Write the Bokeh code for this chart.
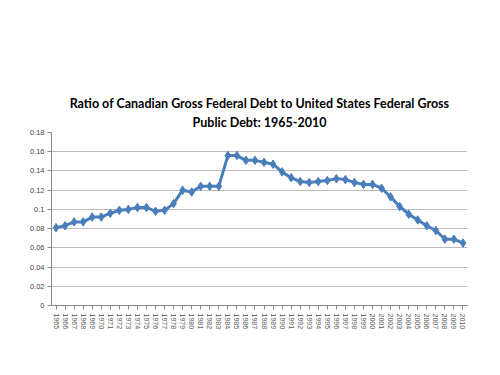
from bokeh.plotting import figure
from bokeh.models import FactorRange, Range1d, FixedTicker, CustomJSTickFormatter, Title, ColumnDataSource
from bokeh.embed import file_html
from bokeh.resources import INLINE

years = [str(y) for y in range(1965, 2011)]
ratio = [0.081, 0.083, 0.087, 0.087, 0.092, 0.092, 0.096, 0.099, 0.100, 0.102,
         0.102, 0.098, 0.099, 0.106, 0.120, 0.118, 0.124, 0.124, 0.124, 0.156,
         0.156, 0.151, 0.151, 0.149, 0.147, 0.139, 0.133, 0.129, 0.128, 0.129,
         0.130, 0.132, 0.131, 0.128, 0.126, 0.126, 0.122, 0.113, 0.103, 0.095,
         0.089, 0.083, 0.078, 0.069, 0.069, 0.065]
y_ticks = [0, 0.02, 0.04, 0.06, 0.08, 0.10, 0.12, 0.14, 0.16, 0.18]
title_line1 = "Ratio of Canadian Gross Federal Debt to United States Federal Gross"
title_line2 = "Public Debt: 1965-2010"

src = ColumnDataSource(data=dict(year=years, ratio=ratio))

p = figure(width=484, height=359, x_range=FactorRange(*years), y_range=Range1d(0, 0.18),
           output_backend="svg", toolbar_location=None, title=None,
           min_border_left=51, min_border_right=17, min_border_top=132, min_border_bottom=54)
p.outline_line_color = None

for txt, so in [(title_line2, 5), (title_line1, 0)]:
    t = Title(text=txt, align="center", text_font="Lato", text_font_size="12.5px",
              text_font_style="bold", text_color="#000000", offset=0, standoff=so)
    p.add_layout(t, "above")

p.line(x="year", y="ratio", source=src, line_color="#4a7ebb", line_width=3)
p.scatter(x="year", y="ratio", source=src, marker="diamond", size=8.5,
          fill_color="#4a7ebb", line_color="#4a7ebb")

p.yaxis.ticker = FixedTicker(ticks=y_ticks)
p.yaxis.formatter = CustomJSTickFormatter(code="return String(Number(tick.toFixed(2)));")
p.yaxis.minor_tick_line_color = None
p.yaxis.major_tick_in = 0
p.yaxis.major_tick_out = 4
p.yaxis.axis_line_color = "#888888"
p.yaxis.major_tick_line_color = "#888888"
p.yaxis.major_label_text_font = "Liberation Sans"
p.yaxis.major_label_text_font_size = "7.5px"
p.yaxis.major_label_text_color = "#444444"
p.yaxis.major_label_standoff = 3

p.xaxis.major_label_orientation = "vertical"
p.xaxis.major_label_text_font = "Liberation Sans"
p.xaxis.major_label_text_font_size = "7px"
p.xaxis.major_label_text_color = "#555555"
p.xaxis.axis_line_color = "#888888"
p.xaxis.major_tick_line_color = "#888888"
p.xaxis.major_tick_in = 0
p.xaxis.major_tick_out = 4
p.xaxis.major_label_standoff = 4

p.xgrid.grid_line_color = None
p.ygrid.grid_line_color = "#bbbbbb"
p.ygrid.grid_line_width = 1

open("out.html", "w").write(file_html(p, INLINE))
